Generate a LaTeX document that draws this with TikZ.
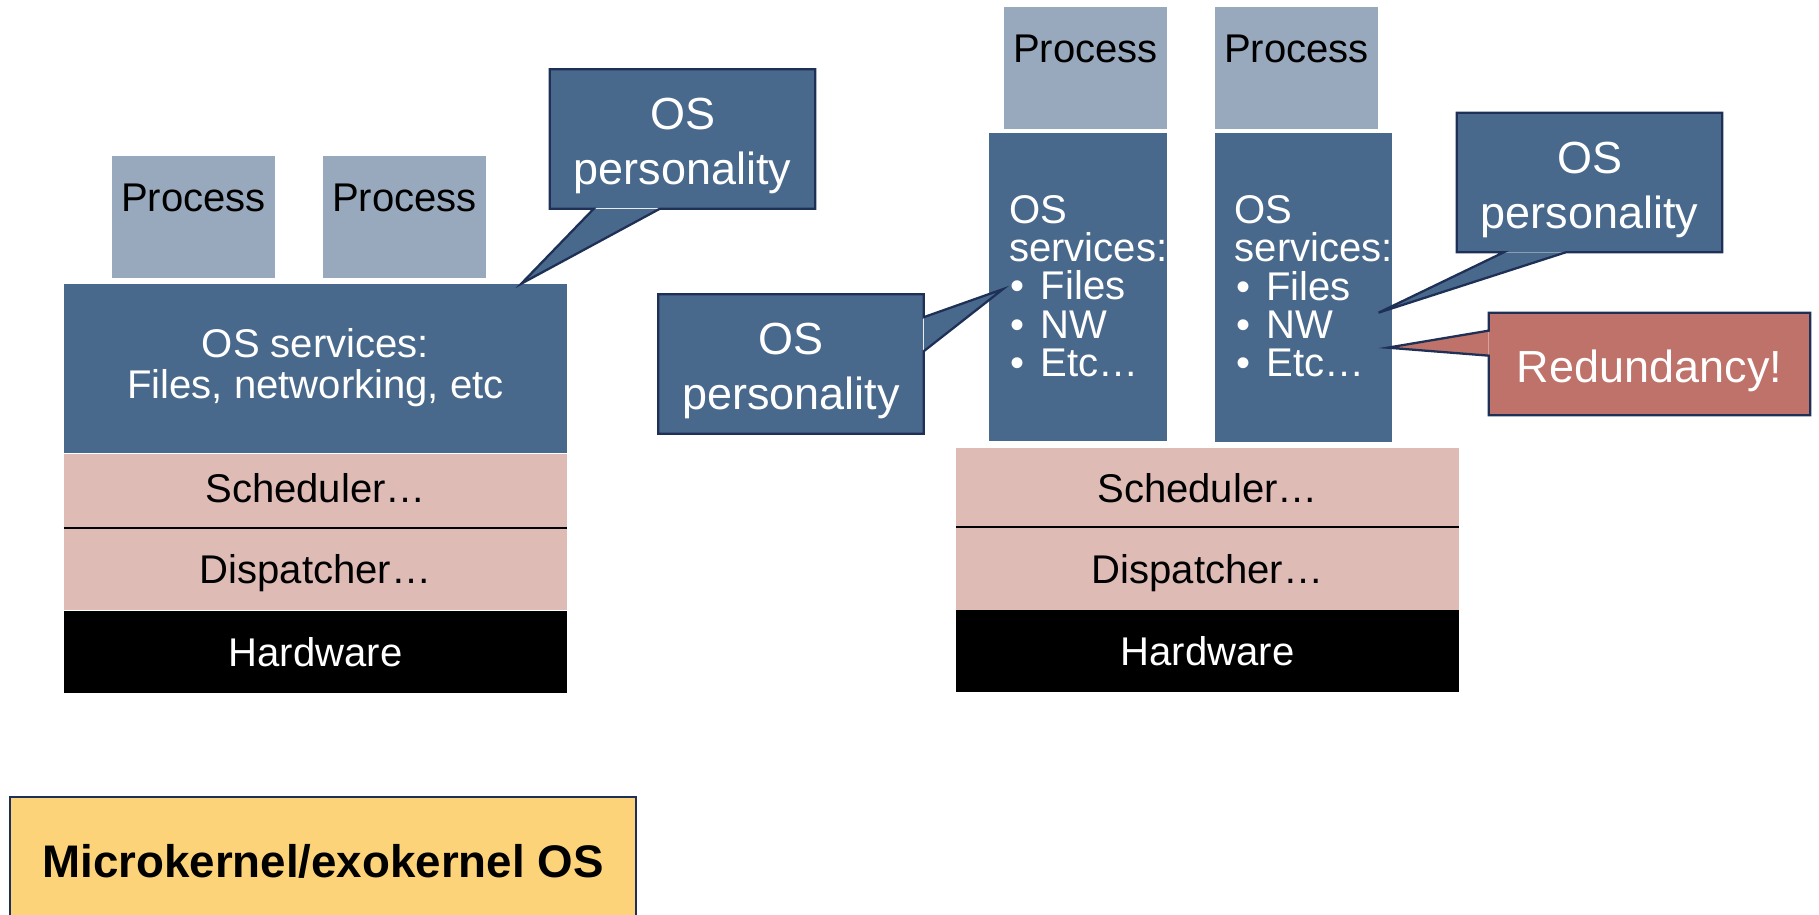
\documentclass[tikz,border=0pt]{standalone}
\usepackage{fontspec}
\setmainfont{Liberation Sans}
\usetikzlibrary{positioning,calc}

\definecolor{osblue}{HTML}{49698C}
\definecolor{procgray}{HTML}{99A9BD}
\definecolor{kernpink}{HTML}{DFBBB6}
\definecolor{navy}{HTML}{1E3056}
\definecolor{alertred}{HTML}{BE7269}
\definecolor{labelyellow}{HTML}{FDD37A}

\tikzset{
  proc/.style={fill=procgray, inner sep=0pt, minimum width=3.26cm,
    text height=1.10cm, text depth=1.34cm, font=\fontsize{22.8}{22.8}\selectfont},
  kern/.style={inner sep=0pt, minimum width=10.06cm, text depth=0pt, font=\fontsize{22.8}{22.8}\selectfont},
  svc/.style={fill=osblue, inner sep=0pt, minimum width=3.55cm, minimum height=6.18cm},
  svctext/.style={text=white, align=left, inner sep=0pt, font=\fontsize{22.8}{21.8}\selectfont},
  bubble/.style={fill=osblue, inner sep=0pt, minimum width=5.3cm, minimum height=2.78cm},
  bubbletext/.style={text=white, inner sep=0pt, align=center, font=\fontsize{25.6}{31.3}\selectfont},
  bubbleline/.style={draw=navy, line width=1.3pt, line join=miter},
}

\begin{document}
\begin{tikzpicture}[x=0.02cm, y=-0.02cm]
  \useasboundingbox (0,0) rectangle (1819,915);

  % monolithic side
  \node[proc, anchor=north] (procA) at (193.5,156) {Process};
  \node[proc, anchor=north] (procB) at (404.5,156) {Process};
  \node[kern, fill=osblue, text=white, minimum height=3.38cm, align=center, text depth=0.2cm,
    font=\fontsize{22.8}{23.4}\selectfont] (osA) at (315.5,368.5)
    {OS services:\\Files, networking, etc};
  \node[kern, fill=kernpink, minimum height=1.48cm, text depth=0.12cm, below=0pt of osA] (schedA) {Scheduler…};
  \node[kern, fill=kernpink, minimum height=1.64cm, below=0pt of schedA] (dispA) {Dispatcher…};
  \node[kern, fill=black, text=white, minimum height=1.64cm, below=0pt of dispA] (hwA) {Hardware};
  \draw[line width=1.2pt] (schedA.south west) -- (schedA.south east);

  % microkernel side
  \node[kern, fill=kernpink, minimum height=1.58cm] (schedB) at (1207.5,487.5) {Scheduler…};
  \node[kern, fill=kernpink, minimum height=1.64cm, below=0pt of schedB] (dispB) {Dispatcher…};
  \node[kern, fill=black, text=white, minimum height=1.64cm, below=0pt of dispB] (hwB) {Hardware};
  \draw[line width=1.2pt] (schedB.south west) -- (schedB.south east);

  \foreach \n/\x in {C/1085.5, D/1296.5}
    \node[proc, anchor=north] (proc\n) at (\x,7) {Process};

  \node[svc] (colA) at (1078,287) {};
  \node[svc] (colB) at (1303.5,287.5) {};
  \foreach \c in {colA, colB}
    \node[svctext, anchor=west] (\c-txt) at ($(\c.west)+(20,-1)$)
      {OS\\services:\\\hspace*{0.03cm}•\hspace{0.32cm}Files\\\hspace*{0.03cm}•\hspace{0.32cm}NW\\\hspace*{0.03cm}•\hspace{0.32cm}Etc…};

  % callouts
  \coordinate (tipA) at ($(osA.north east)+(-46,0)$);
  \coordinate (tipB) at ($(colA.north west)+(14,157)$);
  \coordinate (tipC) at ($(colB.north east)+(-14,180)$);
  \coordinate (tipD) at ($(colB.north east)+(-5,215)$);

  \node[bubble] (persA) at (682.5,139) {};
  \fill[osblue] ($(persA.south west)+(44,0)$) -- (tipA) -- ($(persA.south west)+(110,0)$) -- cycle;
  \draw[bubbleline] (persA.north west) -- (persA.north east) -- (persA.south east)
    -- ($(persA.south west)+(110,0)$) -- (tipA) -- ($(persA.south west)+(44,0)$) -- (persA.south west) -- cycle;
  \node[bubbletext] (persA-txt) at ($(persA)+(0,7)$) {OS\\personality};

  \node[bubble] (persB) at (791,364) {};
  \fill[osblue] ($(persB.north east)+(0,23)$) -- (tipB) -- ($(persB.north east)+(0,57)$) -- cycle;
  \draw[bubbleline] (persB.north west) -- (persB.north east) -- ($(persB.north east)+(0,23)$)
    -- (tipB) -- ($(persB.north east)+(0,57)$) -- (persB.south east) -- (persB.south west) -- cycle;
  \node[bubbletext] (persB-txt) at ($(persB)+(0,7)$) {OS\\personality};

  \node[bubble] (persC) at (1589.5,182.5) {};
  \fill[osblue] ($(persC.south west)+(47,0)$) -- (tipC) -- ($(persC.south west)+(109,0)$) -- cycle;
  \draw[bubbleline] (persC.north west) -- (persC.north east) -- (persC.south east)
    -- ($(persC.south west)+(109,0)$) -- (tipC) -- ($(persC.south west)+(47,0)$) -- (persC.south west) -- cycle;
  \node[bubbletext] (persC-txt) at ($(persC)+(0,7)$) {OS\\personality};

  \node[bubble, fill=alertred, minimum width=6.42cm, minimum height=2.04cm] (redund) at (1649.5,364) {};
  \fill[alertred] ($(redund.north west)+(0,18)$) -- (tipD) -- ($(redund.north west)+(0,43)$) -- cycle;
  \draw[bubbleline] (redund.north west) -- (redund.north east) -- (redund.south east) -- (redund.south west)
    -- ($(redund.north west)+(0,43)$) -- (tipD) -- ($(redund.north west)+(0,18)$) -- cycle;
  \node[bubbletext] (redund-txt) at ($(redund)+(0,7)$) {Redundancy!};

  \node[draw=navy, line width=1.3pt, fill=labelyellow, minimum width=12.52cm, minimum height=2.56cm,
    font=\bfseries\fontsize{26}{26}\selectfont] (title) at (323,861) {Microkernel/exokernel OS};
\end{tikzpicture}
\end{document}
